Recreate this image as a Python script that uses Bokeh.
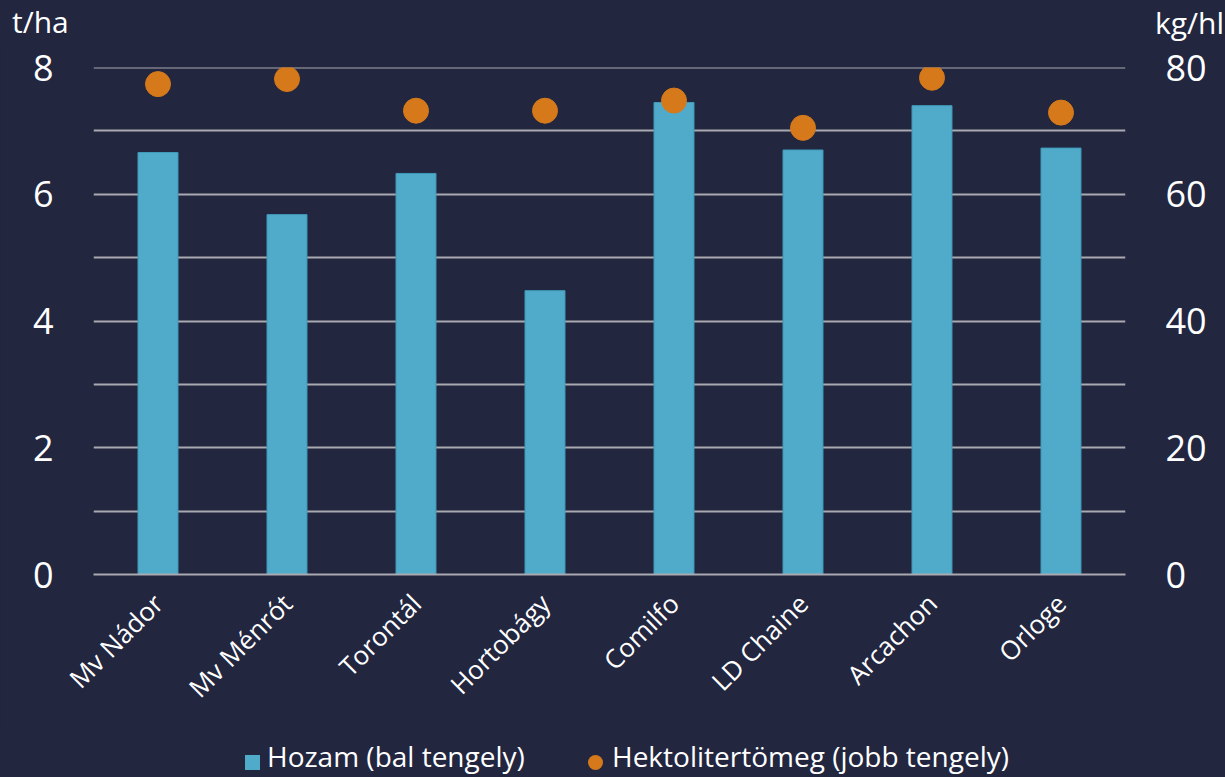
from bokeh.plotting import figure
from bokeh.layouts import column
from bokeh.models import Range1d, LinearAxis, FixedTicker, Div
from bokeh.embed import file_html
from bokeh.resources import INLINE
from math import pi

categories = ["Mv Nádor", "Mv Ménrót", "Torontál", "Hortobágy", "Comilfo", "LD Chaine", "Arcachon", "Orloge"]
hozam = [6.66, 5.68, 6.33, 4.48, 7.45, 6.70, 7.40, 6.73]
hektoliter = [77.4, 78.2, 73.2, 73.2, 74.8, 70.5, 78.4, 72.9]
left_ticks = [0, 2, 4, 6, 8]
grid_ticks = [0, 1, 2, 3, 4, 5, 6, 7, 8]
right_ticks = [0, 20, 40, 60, 80]
left_unit = "t/ha"
right_unit = "kg/hl"
bar_name = "Hozam (bal tengely)"
dot_name = "Hektolitertömeg (jobb tengely)"

BG = "#22263F"
BAR = "#50AACA"
DOT = "#D5791B"
TXT = "#FFFFFF"
GRID = "#A9A9B2"
FONT = "Open Sans"
W = 1225
TOP_H = 42
MAIN_H = 688
LEG_H = 47

base_css = f"font-family:'{FONT}';color:{TXT};line-height:1;white-space:nowrap;position:absolute;"

# ---- top strip with axis units ----
top_html = (f"<div style='position:relative;width:{W}px;height:{TOP_H}px;background:{BG};'>"
            f"<span style=\"{base_css}font-size:30px;left:12px;top:7px;\">{left_unit}</span>"
            f"<span style=\"{base_css}font-size:30px;left:1155px;top:8px;\">{right_unit}</span>"
            "</div>")
top = Div(text=top_html, width=W, height=TOP_H, margin=0, styles={"background-color": BG})

# ---- main chart ----
p = figure(x_range=categories, y_range=Range1d(0, 8.002), width=W, height=MAIN_H,
           output_backend="svg", toolbar_location=None,
           background_fill_color=BG, border_fill_color=BG, outline_line_color=None,
           min_border_left=93, min_border_right=100, min_border_top=25, min_border_bottom=156,
           margin=0)
p.extra_y_ranges = {"r": Range1d(0, 80.02)}

p.vbar(x=categories, top=hozam, width=0.31, fill_color=BAR, line_color="#3F9AB9", line_width=1)
p.scatter(x=categories, y=hektoliter, y_range_name="r", size=25, fill_color=DOT, line_color=DOT)

p.xgrid.grid_line_color = None
p.ygrid.ticker = FixedTicker(ticks=grid_ticks)
p.ygrid.grid_line_color = GRID
p.ygrid.grid_line_width = 2

for ax in p.yaxis:
    ax.ticker = FixedTicker(ticks=left_ticks)
    ax.axis_line_color = None
    ax.major_tick_line_color = None
    ax.minor_tick_line_color = None
    ax.major_label_text_color = TXT
    ax.major_label_text_font = FONT
    ax.major_label_text_font_size = "36px"
    ax.major_label_standoff = 34

ra = LinearAxis(y_range_name="r", ticker=FixedTicker(ticks=right_ticks))
ra.axis_line_color = None
ra.major_tick_line_color = None
ra.minor_tick_line_color = None
ra.major_label_text_color = TXT
ra.major_label_text_font = FONT
ra.major_label_text_font_size = "36px"
ra.major_label_standoff = 34
p.add_layout(ra, "right")

xa = p.xaxis[0]
xa.axis_line_color = GRID
xa.axis_line_width = 2
xa.major_tick_line_color = None
xa.minor_tick_line_color = None
xa.major_label_orientation = pi / 4
xa.major_label_text_color = TXT
xa.major_label_text_font = FONT
xa.major_label_text_font_size = "26px"
xa.major_label_standoff = 18

# ---- legend strip ----
leg_html = (f"<div style='position:relative;width:{W}px;height:{LEG_H}px;background:{BG};'>"
            f"<span style='position:absolute;left:245px;top:25px;width:15px;height:15px;background:{BAR};'></span>"
            f"<span style=\"{base_css}font-size:28px;left:267px;top:12px;\">{bar_name}</span>"
            f"<span style='position:absolute;left:588px;top:25px;width:15px;height:15px;border-radius:50%;background:{DOT};'></span>"
            f"<span style=\"{base_css}font-size:28px;left:612px;top:12px;\">{dot_name}</span>"
            "</div>")
leg = Div(text=leg_html, width=W, height=LEG_H, margin=0, styles={"background-color": BG})

layout = column(top, p, leg, spacing=0, margin=0, styles={"background-color": BG})
open("out.html", "w").write(file_html(layout, INLINE))
